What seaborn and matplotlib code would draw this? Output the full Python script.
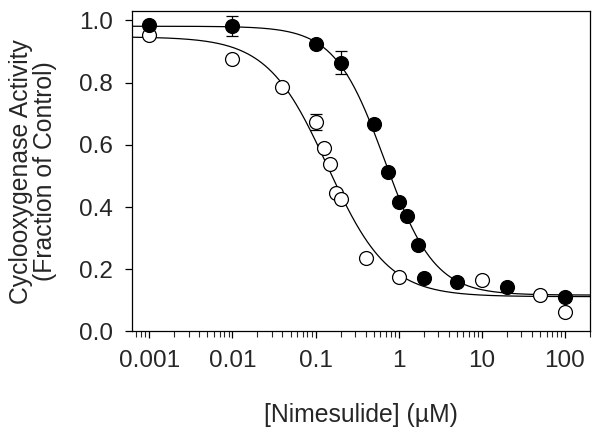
import numpy as np
import pandas as pd
import matplotlib
matplotlib.use("Agg")
import matplotlib.pyplot as plt
import seaborn as sns
from matplotlib.ticker import LogLocator, NullFormatter, FixedLocator

# nimesulide concentration (uM) and activity (fraction of control)
filled_x = [0.001, 0.01, 0.1, 0.2, 0.5, 0.75, 1.0, 1.25, 1.7, 2.0, 5.0, 20.0, 100.0]
filled_y = [0.986, 0.981, 0.925, 0.864, 0.668, 0.514, 0.417, 0.372, 0.278, 0.172, 0.159, 0.143, 0.111]
filled_err = [0.0, 0.032, 0.0, 0.037, 0, 0, 0, 0, 0, 0, 0, 0, 0]

open_x = [0.001, 0.01, 0.04, 0.1, 0.125, 0.15, 0.175, 0.2, 0.4, 1.0, 10.0, 50.0, 100.0]
open_y = [0.954, 0.877, 0.786, 0.674, 0.589, 0.538, 0.445, 0.426, 0.236, 0.175, 0.166, 0.117, 0.063]
open_err = [0, 0, 0, 0.025, 0, 0, 0, 0, 0, 0, 0, 0, 0]

# fitted 4-parameter logistic curves: top, bottom, IC50, hill
filled_fit = (0.981, 0.117, 0.68, 1.45)
open_fit = (0.947, 0.112, 0.14, 1.2)

def logistic(x, p):
    top, bottom, ic50, hill = p
    return bottom + (top - bottom) / (1 + (x / ic50) ** hill)

sns.set_style("ticks")
plt.rcParams['font.family'] = ['Liberation Sans', 'DejaVu Sans']

fig = plt.figure(figsize=(6.01, 4.38), dpi=100)
ax = fig.add_axes([0.2196, 0.2432, 0.7621, 0.7317])

xs = np.logspace(np.log10(6.2e-4), np.log10(200), 400)
curves = pd.concat([
    pd.DataFrame({'x': xs, 'y': logistic(xs, filled_fit), 'set': 'filled'}),
    pd.DataFrame({'x': xs, 'y': logistic(xs, open_fit), 'set': 'open'}),
])
sns.lineplot(data=curves, x='x', y='y', hue='set', palette=['black', 'black'],
             linewidth=0.9, legend=False, ax=ax)

ax.errorbar(filled_x, filled_y, yerr=filled_err, fmt='none', ecolor='black',
            elinewidth=0.9, capsize=4, capthick=0.9, zorder=3)
ax.errorbar(open_x, open_y, yerr=open_err, fmt='none', ecolor='black',
            elinewidth=0.9, capsize=4, capthick=0.9, zorder=3)

sns.scatterplot(x=open_x, y=open_y, s=100, facecolor='white', edgecolor='black',
                linewidth=0.9, ax=ax, zorder=4)
sns.scatterplot(x=filled_x, y=filled_y, s=100, color='black', edgecolor='black',
                linewidth=0.9, ax=ax, zorder=5)

ax.set_xscale('log')
ax.set_xlim(6.2e-4, 200)
ax.set_ylim(0, 1.03)
ax.xaxis.set_major_locator(FixedLocator([0.001, 0.01, 0.1, 1, 10, 100]))
ax.set_xticklabels(['0.001', '0.01', '0.1', '1', '10', '100'])
ax.xaxis.set_minor_locator(LogLocator(base=10, subs=np.arange(2, 10)))
ax.xaxis.set_minor_formatter(NullFormatter())
ax.set_yticks([0.0, 0.2, 0.4, 0.6, 0.8, 1.0])
ax.set_yticklabels(['0.0', '0.2', '0.4', '0.6', '0.8', '1.0'])

ax.tick_params(axis='both', which='major', direction='out', length=5, width=0.9,
               labelsize=17.5, pad=8.5, color='black')
ax.tick_params(axis='x', which='minor', direction='out', length=4, width=0.8)
for s in ax.spines.values():
    s.set_linewidth(0.9)
    s.set_color('black')

ax.set_xlabel('[Nimesulide] (µM)', fontsize=17.8)
ax.set_ylabel('Cyclooxygenase Activity\n(Fraction of Control)', fontsize=17.8,
              linespacing=1.0)
ax.xaxis.set_label_coords(0.5, -0.223)
ax.yaxis.set_label_coords(-0.163, 0.5)

fig.savefig('out.png', dpi=100)
